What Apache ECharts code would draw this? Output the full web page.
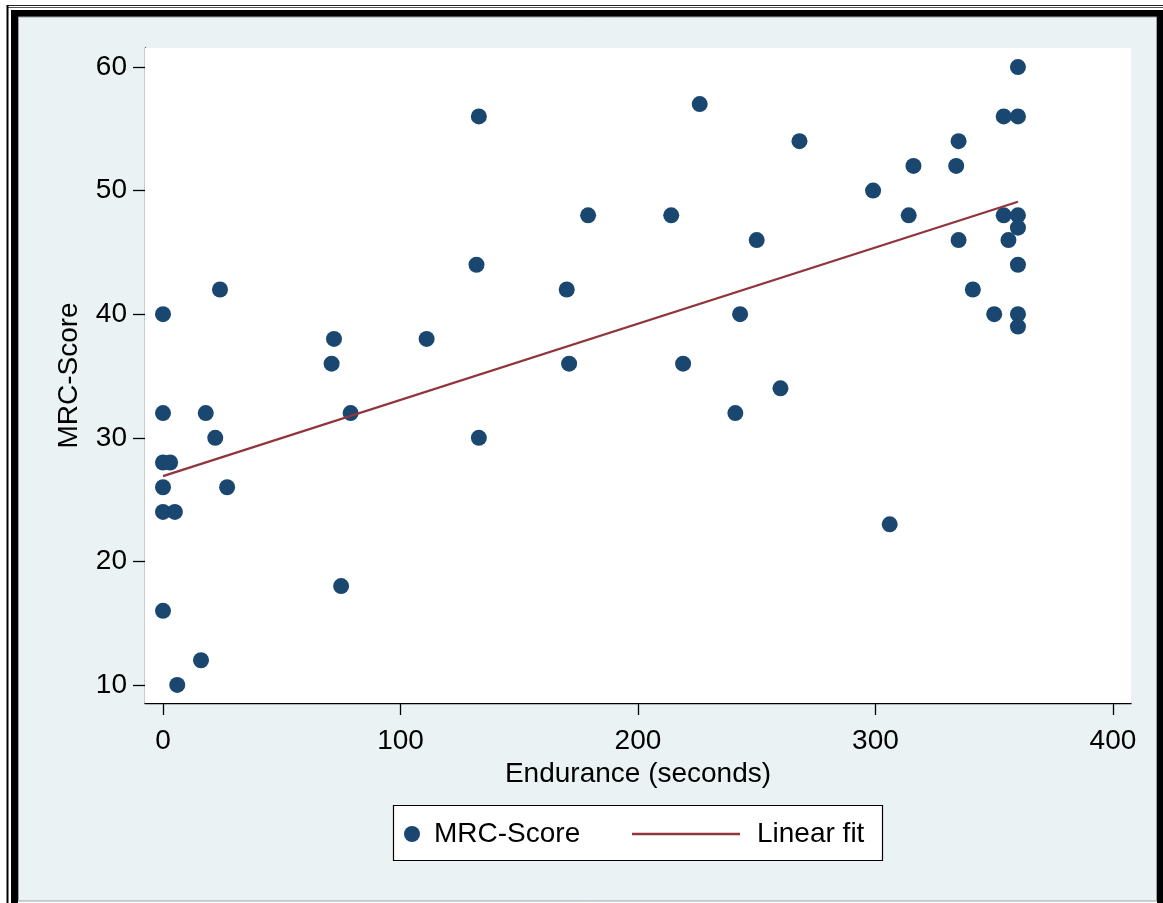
<!DOCTYPE html>
<html>
<head>
<meta charset="utf-8">
<script src="https://cdn.jsdelivr.net/npm/echarts@6/dist/echarts.min.js"></script>
<style>
html,body{margin:0;padding:0;background:#ffffff;}
#chart{width:1163px;height:903px;}
</style>
</head>
<body>
<div id="chart"></div>
<script>
// Data
const endurance = [0,0,0,3,0,0,5,0,6,16,18,22,24,27,71,72,75,79,111,132,133,133,170,171,179,214,219,226,241,243,250,260,268,299,306,314,316,334,335,335,341,350,354,354,356,360,360,360,360,360,360,360];
const mrcScore  = [40,32,28,28,26,24,24,16,10,12,32,30,42,26,36,38,18,32,38,44,56,30,42,36,48,48,36,57,32,40,46,34,54,50,23,48,52,52,54,46,42,40,56,48,46,60,56,48,47,44,40,39];
const fitX = [0, 360];
const fitY = [26.9, 49.1];
const xTicks = [0, 100, 200, 300, 400];
const yTicks = [10, 20, 30, 40, 50, 60];
const xTitle = 'Endurance (seconds)';
const yTitle = 'MRC-Score';
const seriesNames = ['MRC-Score', 'Linear fit'];

const NAVY = '#1a476f', MAROON = '#90353b', BG = '#eaf2f3';
const FONT = 'Liberation Sans, Arial, Helvetica, sans-serif';

const chart = echarts.init(document.getElementById('chart'), null, {renderer: 'canvas'});
const scatterData = endurance.map((x, i) => [x, mrcScore[i]]);
const fitData = fitX.map((x, i) => [x, fitY[i]]);

chart.setOption({
  animation: false,
  backgroundColor: '#ffffff',
  graphic: [
    {type: 'line', shape: {x1: 7, y1: 5.5, x2: 1163, y2: 5.5}, style: {stroke: '#222', lineWidth: 1}, z: 0},
    {type: 'line', shape: {x1: 7, y1: 7.5, x2: 1163, y2: 7.5}, style: {stroke: '#555', lineWidth: 1}, z: 0},
    {type: 'line', shape: {x1: 7.5, y1: 5, x2: 7.5, y2: 903}, style: {stroke: '#000', lineWidth: 2}, z: 0},
    {type: 'rect', shape: {x: 11, y: 10, width: 1152, height: 7}, style: {fill: '#000'}, z: 0},
    {type: 'rect', shape: {x: 11, y: 10, width: 7, height: 893}, style: {fill: '#000'}, z: 0},
    {type: 'rect', shape: {x: 1157, y: 10, width: 6, height: 893}, style: {fill: '#000'}, z: 0},
    {type: 'rect', shape: {x: 18.5, y: 17, width: 1138, height: 884}, style: {fill: BG, stroke: '#9aa3a6', lineWidth: 1}, z: 0},
    {type: 'rect', shape: {x: 393.5, y: 805.5, width: 489, height: 55}, style: {fill: '#ffffff', stroke: '#000', lineWidth: 1.2}, z: 1}
  ],
  grid: {left: 145, right: 32, top: 48, bottom: 200, show: true, backgroundColor: '#ffffff', borderWidth: 0, z: 1},
  xAxis: {
    type: 'value',
    min: -7.58, max: 407.6,
    name: xTitle, nameLocation: 'middle', nameGap: 55,
    nameTextStyle: {color: '#000', fontSize: 28, fontFamily: FONT},
    axisLine: {show: true, onZero: false, lineStyle: {color: '#000', width: 1.3}},
    axisTick: {show: true, length: 12, customValues: xTicks, lineStyle: {color: '#000', width: 1.3}},
    axisLabel: {customValues: xTicks, margin: 24, color: '#000', fontSize: 28, fontFamily: FONT},
    splitLine: {show: false}
  },
  yAxis: {
    type: 'value',
    min: 8.54, max: 61.54,
    name: yTitle, nameLocation: 'middle', nameGap: 62,
    nameTextStyle: {color: '#000', fontSize: 28, fontFamily: FONT},
    axisLine: {show: true, onZero: false, lineStyle: {color: '#000', width: 1.3}},
    axisTick: {show: true, length: 12, customValues: yTicks, lineStyle: {color: '#000', width: 1.3}},
    axisLabel: {customValues: yTicks, margin: 18, color: '#000', fontSize: 28, fontFamily: FONT},
    splitLine: {show: true, lineStyle: {color: BG, width: 2.5}}
  },
  legend: [
    {
      data: [{name: seriesNames[0], icon: 'circle'}], left: 404, top: 820, orient: 'horizontal',
      itemWidth: 16, itemHeight: 16, padding: 0, z: 5,
      textStyle: {color: '#000', fontSize: 28, fontFamily: FONT, padding: [0, 0, 0, 9]},
      selectedMode: false
    },
    {
      data: [{name: seriesNames[1], icon: 'rect'}], left: 632, top: 820, orient: 'horizontal',
      itemWidth: 108, itemHeight: 2.4, padding: 0, z: 5,
      textStyle: {color: '#000', fontSize: 28, fontFamily: FONT, padding: [0, 0, 0, 12]},
      selectedMode: false
    }
  ],
  series: [
    {
      name: seriesNames[0], type: 'scatter', data: scatterData,
      symbol: 'circle', symbolSize: 16,
      itemStyle: {color: NAVY, opacity: 1}, z: 3
    },
    {
      name: seriesNames[1], type: 'line', data: fitData,
      symbol: 'none', showSymbol: false,
      lineStyle: {color: MAROON, width: 2.2}, itemStyle: {color: MAROON}, z: 4
    }
  ]
});
</script>
</body>
</html>
